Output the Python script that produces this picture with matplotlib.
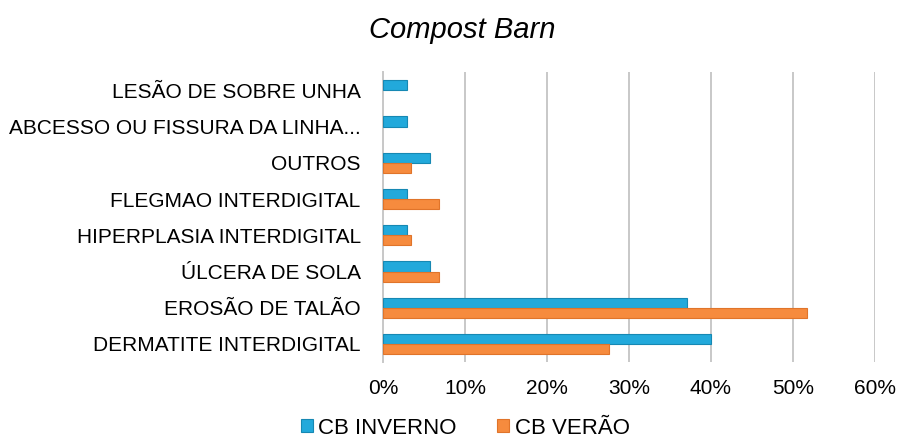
import matplotlib.pyplot as plt
import numpy as np

plt.rcParams['font.family'] = ['Liberation Sans', 'DejaVu Sans']

categorias = ['DERMATITE INTERDIGITAL', 'EROSÃO DE TALÃO', 'ÚLCERA DE SOLA',
              'HIPERPLASIA INTERDIGITAL', 'FLEGMAO INTERDIGITAL', 'OUTROS',
              'ABCESSO OU FISSURA DA LINHA...', 'LESÃO DE SOBRE UNHA']
inverno = [40.0, 37.1, 5.7, 2.9, 2.9, 5.7, 2.9, 2.9]
verao = [27.6, 51.7, 6.9, 3.4, 6.9, 3.4, 0, 0]
xticks = [0, 10, 20, 30, 40, 50, 60]

fig = plt.figure(figsize=(9.03, 4.40), dpi=100)
ax = fig.add_axes([0.424, 0.177, 0.545, 0.659])

y = np.arange(len(categorias))
h = 0.28
lw_inv = [0.8 if v > 0 else 0 for v in inverno]
lw_ver = [0.8 if v > 0 else 0 for v in verao]
ax.barh(y + h / 2, inverno, height=h, color='#22a9db', edgecolor='#1688b3',
        linewidth=lw_inv, label='CB INVERNO', zorder=3)
ax.barh(y - h / 2, verao, height=h, color='#f68b3e', edgecolor='#e0742a',
        linewidth=lw_ver, label='CB VERÃO', zorder=3)

ax.set_xlim(0, 60)
ax.set_ylim(-0.5, len(categorias) - 0.5)
ax.set_xticks(xticks)
ax.set_xticklabels([f'{t}%' for t in xticks], fontsize=15)
ax.set_yticks(y)
ax.set_yticklabels(categorias, fontsize=15)
ax.tick_params(length=0, pad=16)
ax.tick_params(axis='x', pad=12)
ax.grid(axis='x', color='#c8c8c8', linewidth=1.4, zorder=0)
for s in ['top', 'right', 'bottom']:
    ax.spines[s].set_visible(False)
ax.spines['left'].set_color('#c8c8c8')
ax.spines['left'].set_linewidth(1.4)

fig.text(0.512, 0.932, 'Compost Barn', ha='center', va='center',
         fontsize=21, style='italic')
fig.legend(loc='center', bbox_to_anchor=(0.515, 0.027), ncol=2, frameon=False,
           fontsize=16, handlelength=0.55, handleheight=0.55, handletextpad=0.25,
           columnspacing=1.8)

fig.savefig('out.png', dpi=100)
